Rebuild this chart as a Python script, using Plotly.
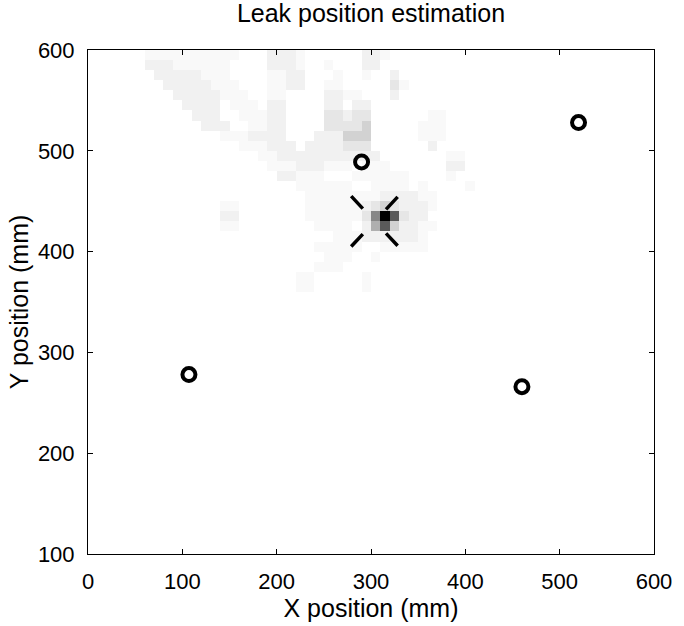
import plotly.graph_objects as go

# ---- data ----
title_text = "Leak position estimation"
x_label = "X position (mm)"
y_label = "Y position (mm)"

sensor_x = [107, 290, 460, 520]
sensor_y = [278, 489, 266, 528]

leak_x = 304
leak_y = 430

x_ticks = [0, 100, 200, 300, 400, 500, 600]
y_ticks = [100, 200, 300, 400, 500, 600]

# intensity map (10 mm cells), rows from y=600 downward, 60 columns for x 0..600
cell_size = 10
intensity_rows = [
    "0000001111" "1111110002" "2210000002" "2100000000" "0000000000" "0000000000",
    "0000002221" "1111100002" "2210010002" "2000000000" "0000000000" "0000000000",
    "0000000222" "2211100001" "1220001001" "0020000000" "0000000000" "0000000000",
    "0000000022" "2221110001" "1220011000" "0031000000" "0000000000" "0000000000",
    "0000000002" "2222111001" "1000022110" "0020000000" "0000000000" "0000000000",
    "0000000000" "2222011102" "2000022022" "0000000000" "0000000000" "0000000000",
    "0000000000" "0222001112" "2000033233" "0000001100" "0000000000" "0000000000",
    "0000000000" "0022200112" "2000033334" "0000011100" "0000000000" "0000000000",
    "0000000000" "0000111222" "2000222444" "0000011100" "0000000000" "0000000000",
    "0000000000" "0000001112" "2202222333" "0000002000" "0000000000" "0000000000",
    "0000000000" "0000000011" "2222222222" "2000000011" "0000000000" "0000000000",
    "0000000000" "0000000001" "1122211101" "1100000022" "0000000000" "0000000000",
    "0000000000" "0000000000" "2211100011" "1111000010" "0000000000" "0000000000",
    "0000000000" "0000000000" "0011111100" "1111010000" "1000000000" "0000000000",
    "0000000000" "0000000000" "0001111111" "1222211000" "0000000000" "0000000000",
    "0000000000" "0000110000" "0001111112" "3432221000" "0000000000" "0000000000",
    "0000000000" "0000220000" "0001111113" "6973220000" "0000000000" "0000000000",
    "0000000000" "0000110000" "0000111102" "5742211000" "0000000000" "0000000000",
    "0000000000" "0000000000" "0000001112" "2222210000" "0000000000" "0000000000",
    "0000000000" "0000000000" "0000111110" "0111110000" "0000000000" "0000000000",
    "0000000000" "0000000000" "0000011100" "1000000000" "0000000000" "0000000000",
    "0000000000" "0000000000" "0000111000" "0000000000" "0000000000" "0000000000",
    "0000000000" "0000000000" "0011000001" "0000000000" "0000000000" "0000000000",
    "0000000000" "0000000000" "0011000001" "0000000000" "0000000000" "0000000000",
    "0000000000" "0000000000" "0000000000" "0000000000" "0000000000" "0000000000",
]

gray_levels = [255, 249, 241, 230, 210, 175, 135, 90, 45, 0]

# ---- build ----
z = [[int(ch) for ch in row] for row in intensity_rows]
ncols = len(z[0])
xc = [cell_size * (i + 0.5) for i in range(ncols)]
yc = [600 - cell_size * (j + 0.5) for j in range(len(z))]
nlev = len(gray_levels) - 1
colorscale = [[k / nlev, f"rgb({g},{g},{g})"] for k, g in enumerate(gray_levels)]

font_family = "Liberation Sans, Arial, Helvetica, sans-serif"

fig = go.Figure()
fig.add_trace(go.Heatmap(
    x=xc, y=yc, z=z, zmin=0, zmax=nlev, colorscale=colorscale,
    showscale=False, hoverinfo="skip",
))

fig.add_trace(go.Scatter(
    x=sensor_x, y=sensor_y, mode="markers",
    marker=dict(symbol="circle-open", size=13, color="black",
                line=dict(width=4, color="black")),
    showlegend=False,
))

arm = 25  # half-size of the leak cross in mm
for sgn in (1, -1):
    fig.add_trace(go.Scatter(
        x=[leak_x - arm, leak_x + arm],
        y=[leak_y + sgn * arm, leak_y - sgn * arm],
        mode="lines",
        line=dict(color="black", width=3.5, dash="17px,34px"),
        showlegend=False,
    ))

axis_common = dict(
    showline=True, linecolor="black", linewidth=1, mirror="ticks",
    ticks="inside", ticklen=5, tickcolor="black", tickwidth=1,
    showgrid=False, zeroline=False,
    tickfont=dict(family=font_family, size=22, color="black"),
    ticklabelstandoff=8,
)

fig.update_layout(
    width=684, height=626,
    margin=dict(l=88, r=22, t=50, b=69),
    paper_bgcolor="white", plot_bgcolor="white",
    font=dict(family=font_family, color="black"),
    title=dict(text=title_text, x=0.5, xref="paper", y=1 - 13 / 626,
               yref="container", yanchor="middle", xanchor="center",
               font=dict(size=25, family=font_family, color="black")),
    xaxis=dict(range=[0, 600], tickvals=x_ticks,
               title=dict(text=x_label, standoff=2,
                          font=dict(size=25, family=font_family)),
               **axis_common),
    yaxis=dict(range=[100, 600], tickvals=y_ticks,
               title=dict(text=y_label, standoff=2,
                          font=dict(size=25, family=font_family)),
               **axis_common),
    showlegend=False,
)

fig.write_html("out.html")
